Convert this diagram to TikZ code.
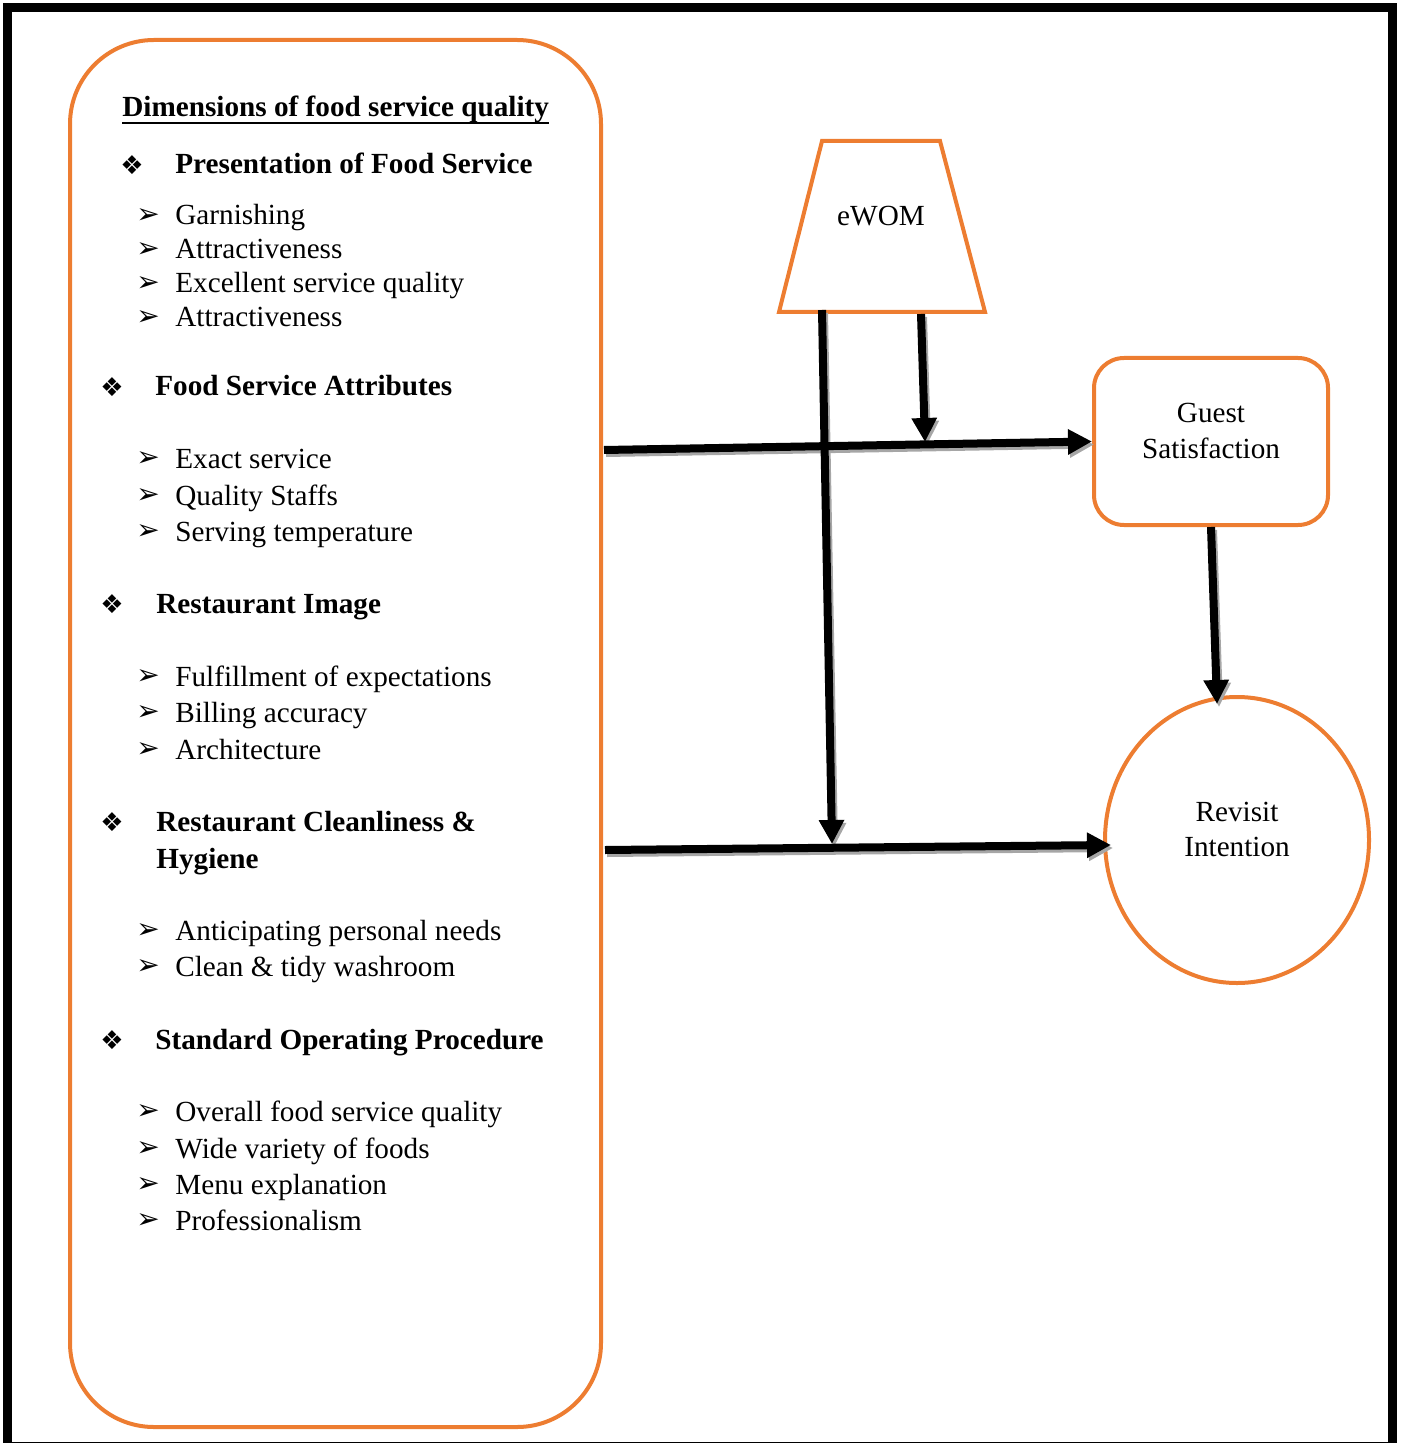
\documentclass[tikz,border=0pt]{standalone}
\usepackage{fontspec}
\setmainfont{Liberation Serif}
\newfontfamily\symfont{DejaVu Sans}
\usetikzlibrary{arrows.meta,shapes.geometric}

\definecolor{accent}{RGB}{237,125,49}

\begin{document}
\begin{tikzpicture}[x=0.5pt,y=-0.5pt,
  frame/.style={line width=4.5pt},
  panel/.style={draw=accent,line width=2pt},
  txt/.style={inner sep=0pt,font=\fontsize{14.6}{17}\selectfont},
  head/.style={inner sep=0pt,font=\fontsize{14.6}{17}\selectfont\bfseries,anchor=base west},
  entry/.style={txt,anchor=base west},
  dbul/.style={inner sep=0pt,font=\symfont\fontsize{13}{14}\selectfont},
  abul/.style={inner sep=0pt,font=\symfont\fontsize{14}{15}\selectfont},
  link/.style={line width=4pt,-{Triangle[length=12pt,width=12pt]}},
  linkshade/.style={link,draw=black!35,transform canvas={xshift=1pt,yshift=-1.5pt}},
]
\useasboundingbox (0,0) rectangle (1403,1443);

% outer frame
\draw[frame] (7.5,7.5) rectangle (1392,1446);

% left panel with the dimensions
\node[panel,rounded corners=42pt,minimum width=265.5pt,minimum height=693.5pt,inner sep=0pt]
  (dims) at (335.5,733.5) {};

\node[head] (title) at (122,117) {Dimensions of food service quality};
\draw[line width=1.4pt] ([yshift=-3pt]title.base west) -- ([yshift=-3pt]title.base east);

% Presentation of Food Service
\node[dbul] (b1) at (132,165) {❖};
\node[head] (h1) at (175,174) {Presentation of Food Service};
\node[abul] (a11) at (148,216) {➢};
\node[entry] (i11) at (175,225) {Garnishing};
\node[abul] (a12) at (148,250) {➢};
\node[entry] (i12) at (175,259) {Attractiveness};
\node[abul] (a13) at (148,284) {➢};
\node[entry] (i13) at (175,293) {Excellent service quality};
\node[abul] (a14) at (148,318) {➢};
\node[entry] (i14) at (175,327) {Attractiveness};

% Food Service Attributes
\node[dbul] (b2) at (112,387) {❖};
\node[head] (h2) at (155,396) {Food Service Attributes};
\node[abul] (a21) at (148,459) {➢};
\node[entry] (i21) at (175,468) {Exact service};
\node[abul] (a22) at (148,496) {➢};
\node[entry] (i22) at (175,505) {Quality Staffs};
\node[abul] (a23) at (148,532) {➢};
\node[entry] (i23) at (175,541) {Serving temperature};

% Restaurant Image
\node[dbul] (b3) at (112,604) {❖};
\node[head] (h3) at (156,613) {Restaurant Image};
\node[abul] (a31) at (148,677) {➢};
\node[entry] (i31) at (175,686) {Fulfillment of expectations};
\node[abul] (a32) at (148,713) {➢};
\node[entry] (i32) at (175,722) {Billing accuracy};
\node[abul] (a33) at (148,750) {➢};
\node[entry] (i33) at (175,759) {Architecture};

% Restaurant Cleanliness & Hygiene
\node[dbul] (b4) at (112,822) {❖};
\node[head] (h4) at (156,831) {Restaurant Cleanliness \&};
\node[head] (h4b) at (156,868) {Hygiene};
\node[abul] (a41) at (148,931) {➢};
\node[entry] (i41) at (175,940) {Anticipating personal needs};
\node[abul] (a42) at (148,967) {➢};
\node[entry] (i42) at (175,976) {Clean \& tidy washroom};

% Standard Operating Procedure
\node[dbul] (b5) at (112,1040) {❖};
\node[head] (h5) at (155,1049) {Standard Operating Procedure};
\node[abul] (a51) at (148,1112) {➢};
\node[entry] (i51) at (175,1121) {Overall food service quality};
\node[abul] (a52) at (148,1149) {➢};
\node[entry] (i52) at (175,1158) {Wide variety of foods};
\node[abul] (a53) at (148,1185) {➢};
\node[entry] (i53) at (175,1194) {Menu explanation};
\node[abul] (a54) at (148,1221) {➢};
\node[entry] (i54) at (175,1230) {Professionalism};

% eWOM trapezium
\draw[panel,line join=miter] (822,141) -- (940,141) -- (985,312) -- (779,312) -- cycle;
\node[txt] (ewom) at (881,216) {eWOM};

% Guest Satisfaction
\node[panel,rounded corners=15pt,minimum width=117pt,minimum height=83.5pt,inner sep=0pt]
  (gs) at (1211,441.5) {};
\node[txt,align=center,font=\fontsize{14.6}{18}\selectfont] (gstext) at (1211,431) {Guest\\Satisfaction};

% Revisit Intention
\node[panel,ellipse,minimum width=132pt,minimum height=143pt,inner sep=0pt]
  (ri) at (1237,840) {};
\node[txt,align=center,font=\fontsize{14.6}{17.5}\selectfont] (ritext) at (1237,829.5) {Revisit\\Intention};

% connector end points
\coordinate (d1) at (604,450);
\coordinate (d2) at (605,850);
\coordinate (e1) at (822,310);
\coordinate (e2) at (921,314);
\coordinate (m1) at (925,442);
\coordinate (m2) at (832,844);
\coordinate (g1) at (1211,527);
\coordinate (r1) at (1217,704);
\coordinate (r2) at (1111,845);

% shadows of the connectors
\draw[linkshade] (d1) -- (gs.west);
\draw[linkshade] (d2) -- (r2);
\draw[linkshade] (e1) -- (m2);
\draw[linkshade] (e2) -- (m1);
\draw[linkshade] (g1) -- (r1);

% connectors
\draw[link] (d1) -- (gs.west);
\draw[link] (d2) -- (r2);
\draw[link] (e1) -- (m2);
\draw[link] (e2) -- (m1);
\draw[link] (g1) -- (r1);
\end{tikzpicture}
\end{document}
